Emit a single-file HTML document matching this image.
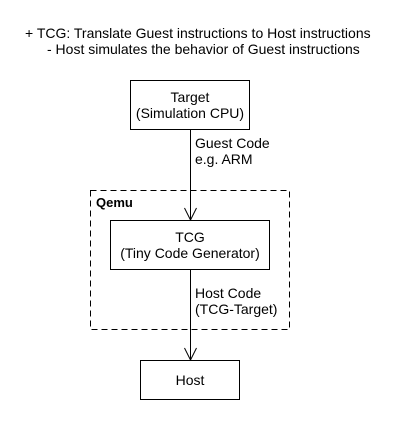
<!DOCTYPE html>
<html><head><style>body{margin:0;background:#fff}</style></head><body>
<svg width="410" height="420" xmlns="http://www.w3.org/2000/svg" font-family="Liberation Sans, sans-serif" font-size="14" fill="#000">
<rect width="410" height="420" fill="#fff"/>
<text x="25" y="38">+ TCG: Translate Guest instructions to Host instructions</text>
<text x="47" y="54">- Host simulates the behavior of Guest instructions</text>
<rect x="130.5" y="80.5" width="119" height="49" fill="none" stroke="#000"/>
<text x="190" y="102" text-anchor="middle">Target</text>
<text x="190" y="118" text-anchor="middle">(Simulation CPU)</text>
<line x1="190.5" y1="130" x2="190.5" y2="220" stroke="#000"/>
<polyline points="184.5,208 190.5,220 196.5,208" fill="none" stroke="#000"/>
<text x="195" y="148">Guest Code</text>
<text x="195" y="164">e.g. ARM</text>
<rect x="90.5" y="190.5" width="199" height="139" fill="none" stroke="#000" stroke-dasharray="6,4"/>
<text x="96" y="207" font-weight="bold" font-size="13">Qemu</text>
<rect x="110.5" y="220.5" width="159" height="49" fill="none" stroke="#000"/>
<text x="190" y="242" text-anchor="middle">TCG</text>
<text x="190" y="258" text-anchor="middle">(Tiny Code Generator)</text>
<line x1="190.5" y1="270" x2="190.5" y2="360" stroke="#000"/>
<polyline points="184.5,348 190.5,360 196.5,348" fill="none" stroke="#000"/>
<text x="195" y="298">Host Code</text>
<text x="195" y="314">(TCG-Target)</text>
<rect x="140.5" y="360.5" width="99" height="39" fill="none" stroke="#000"/>
<text x="190" y="385" text-anchor="middle">Host</text>
</svg>
</body></html>
